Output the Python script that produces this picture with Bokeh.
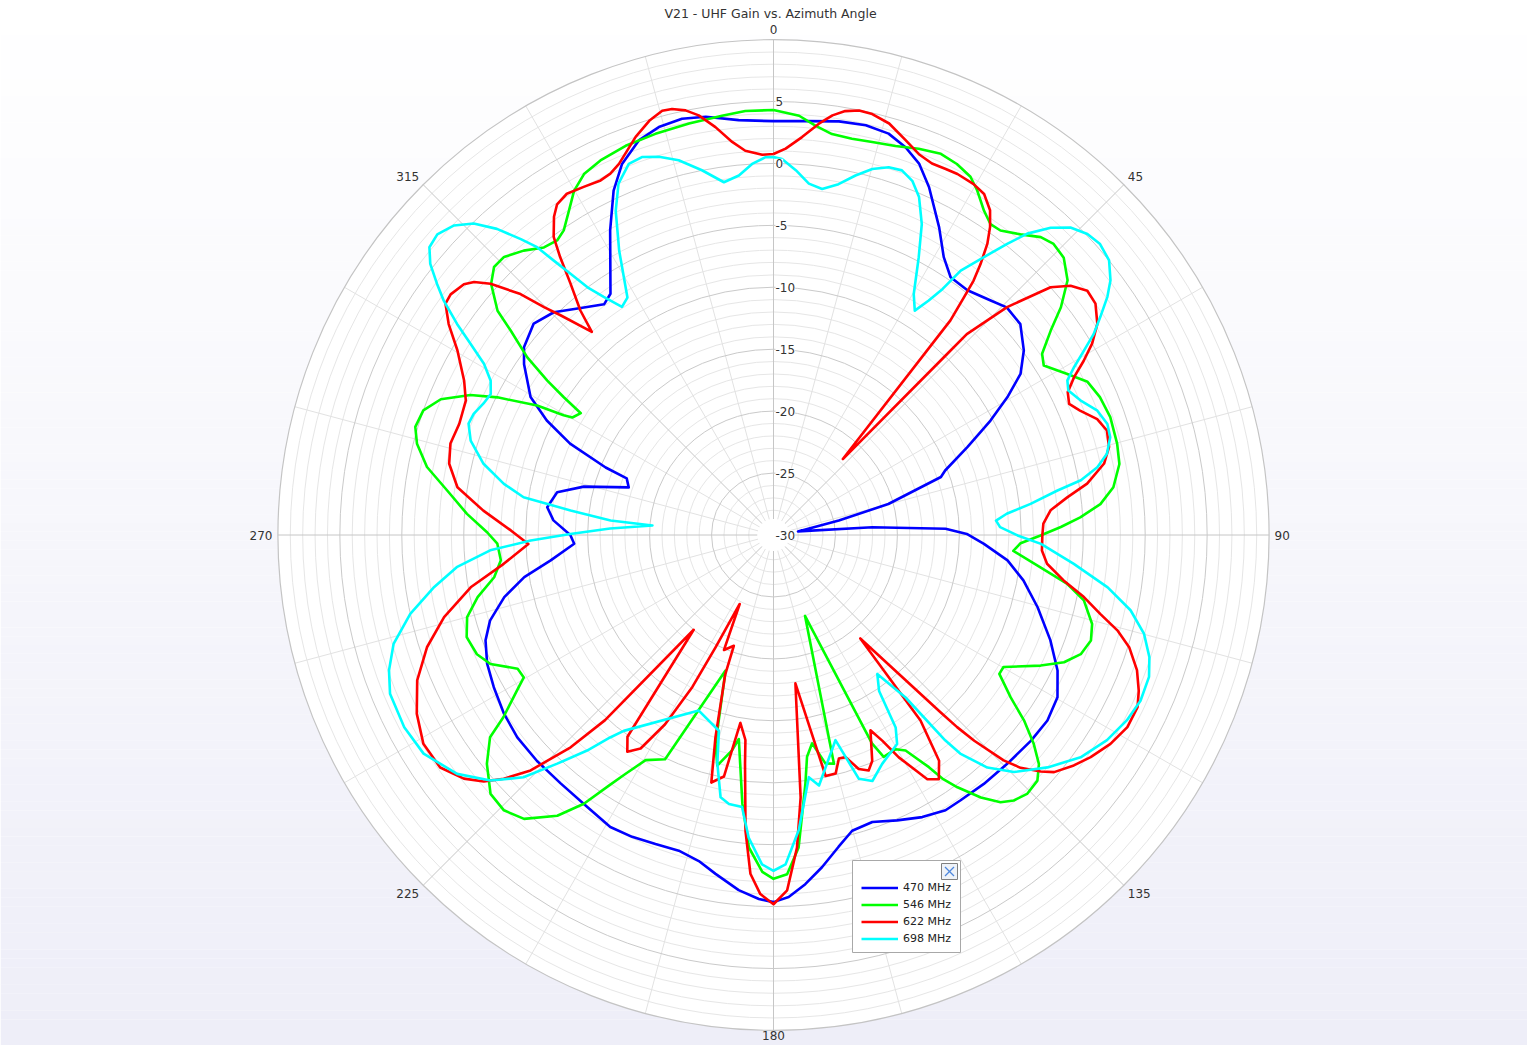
import numpy as np
from bokeh.plotting import figure
from bokeh.models import Range1d, Label, Legend, LegendItem
from bokeh.embed import file_html
from bokeh.resources import INLINE

TITLE = "V21 - UHF Gain vs. Azimuth Angle"
R_MIN, R_MAX = -30, 10
RING_LABELS = [5, 0, -5, -10, -15, -20, -25, -30]
ANGLE_LABELS = [0, 45, 90, 135, 180, 225, 270, 315]
SERIES = ["470 MHz", "546 MHz", "622 MHz", "698 MHz"]
COLORS = ["#0000ff", "#00ff00", "#ff0000", "#00ffff"]

# ---- 470 MHz ----
ANG_470 = [0, 4.4, 9.0, 12.7, 16.0, 18.8, 21.4, 24.1, 28.3, 31.5, 34.5, 38.4, 42.8, 45.7, 49.5,
           53.6, 56.9, 59.5, 62.2, 65.6, 69.4, 70.9, 74.9, 77.5, 81.7, 85.5, 87.9, 89.7, 92.4,
           96.2, 100.3, 105.3, 110.8, 115.5, 119.75, 124.1, 128.6, 134.4, 139.8, 144.8, 148.0,
           152.2, 156.6, 161.0, 165.1, 168.2, 171.7, 174.8, 177.6, 180, 182.3, 185.6, 189.7,
           192.9, 196.7, 200.9, 205.1, 209.2, 214.4, 220.6, 226.3, 231.7, 236.45, 241.45, 245.8,
           249.9, 253.2, 257.0, 260.4, 263.5, 267.5, 270, 273.8, 277.0, 281.2, 284.3, 288.2,
           291.1, 291.9, 294.2, 296.8, 299.6, 304.4, 306.95, 311.4, 315.4, 320.2, 323.7, 325.95,
           331.8, 335.1, 337.8, 341.15, 344.3, 347.6, 350.8, 355.2]
DB_470 = [3.4, 3.5, 3.8, 3.9, 3.7, 3.06, 2.2, 0.75, -1.8, -3.7, -4.76, -4.8, -4.2, -3.7, -3.8,
          -4.9, -6.2, -8.1, -10.2, -12.8, -15.2, -15.7, -20.4, -24.6, -28.0, -22.0, -16.1, -14.4, -13.0,
          -11.0, -9.5, -7.9, -6.1, -4.6, -3.6, -3.3, -3.4, -3.6, -3.7, -3.8, -3.8,
          -4.26, -4.9, -5.5, -5.3, -4.3, -2.9, -1.7, -0.75, -0.37, -0.6, -1.2, -2.25,
          -3.0, -3.4, -3.3, -3.1, -3.0, -3.4, -3.6, -3.6, -3.65, -3.9, -4.3, -4.66,
          -5.25, -6.1, -7.7, -9.6, -11.9, -13.9, -13.6, -12.2, -11.6, -12.2, -14.2, -17.7,
          -17.3, -15.4, -12.0, -9.5, -7.45, -5.6, -4.8, -4.2, -4.75, -6.1, -6.9, -6.5,
          -2.1, 0.65, 2.35, 3.65, 4.2, 4.4, 4.2, 3.6]

# ---- 546 MHz ----
ANG_546 = [0, 3.5, 5.9, 8.3, 11.2, 14.1, 17.4, 20.6, 23.7, 26.3, 28.8, 30.6, 33.0, 34.9, 36.7,
           39.4, 41.9, 43.9, 46.3, 49.1, 51.6, 53.6, 56.0, 57.9, 61.2, 64.0, 67.1, 70.7, 75.1,
           78.4, 82.0, 84.6, 86.7, 88.4, 90.1, 91.9, 93.8, 96.9, 99.4, 101.9, 105.6, 108.4,
           111.2, 113.65, 116.05, 119.85, 121.6, 124.4, 126.5, 128.7, 130.8, 132.95, 135.6,
           137.85, 139.65, 141.7, 143.9, 145.2, 146.2, 148.5, 150.3, 153.6, 154.7, 158.7,
           165.2, 167.2, 169.5, 171.4, 172.7, 175.4, 177.7, 180, 181.9, 184.5, 186.6, 189.65,
           190.9, 193.7, 195.5, 199.5, 205.8, 209.6, 211.8, 213.3, 215.2, 217.6, 221.3, 224.4,
           227.55, 231.4, 234.5, 236.0, 238.8, 240.3, 242.4, 245.5, 248.1, 251.6, 255.0, 258.15,
           261.4, 264.7, 268.2, 270.5, 273.95, 277.8, 281.1, 284.35, 286.8, 289.6, 292.2, 294.8,
           296.5, 298.7, 299.7, 300.3, 302.3, 303.3, 304.3, 305.8, 307.9, 309.1, 311.65, 313.8,
           315.9, 318.7, 321.4, 323.7, 325.45, 327.8, 329.9, 332.3, 335.2, 339.2, 343.6, 348.4,
           353.0, 356.2]
DB_546 = [4.3, 3.9, 3.2, 2.7, 2.6, 2.7, 2.9, 3.3, 3.6, 3.4, 3.0, 2.3, 1.2, 0.6, 0.65,
          1.4, 2.3, 2.6, 2.4, 1.4, -0.4, -2.2, -3.85, -4.25, -3.0, -1.8, -1.4, -1.2, -1.3,
          -1.5, -2.3, -3.5, -5.2, -6.8, -8.45, -10.05, -10.6, -8.3, -6.0, -4.4, -3.3, -3.0,
          -3.4, -4.4, -6.0, -8.6, -8.6, -6.8, -4.85, -3.1, -1.7, -0.9, -0.75,
          -1.1, -1.7, -3.0, -4.8, -6.0, -7.45, -9.6, -10.1, -10.0, -11.4, -23.0,
          -10.9, -11.1, -12.9, -11.9, -9.75, -4.7, -2.6, -2.25, -2.8, -4.7, -8.15, -13.3,
          -12.3, -10.85, -12.5, -18.4, -9.9, -9.1, -7.3, -5.8, -3.45, -1.4, 0.5, 1.1,
          0.95, -0.4, -1.9, -3.7, -5.8, -6.8, -6.7, -4.9, -4.2, -3.9, -4.4, -5.6,
          -7.2, -7.9, -7.7, -6.9, -5.2, -3.4, -1.5, -0.3, 0.2, 0.0, -1.0, -3.05,
          -5.1, -8.25, -10.5, -11.2, -11.6, -9.75, -7.9, -5.5, -3.1, -1.3, 0.5, 1.25,
          1.25, 0.55, -0.3, -0.5, -0.15, 0.97, 2.1, 2.9, 3.3, 3.6, 3.75, 3.9,
          4.1, 4.3]

# ---- 622 MHz ----
ANG_622 = [0, 1.8, 4.1, 6.3, 8.0, 9.6, 11.4, 13.2, 15.7, 18.5, 20.9, 23.1, 25.2, 27.0, 29.7,
           31.7, 33.7, 35.1, 36.3, 37.4, 38.2, 38.7, 39.5, 42.4, 43.8, 43.9, 45.7, 48.2, 50.0,
           52.1, 54.3, 56.9, 59.0, 60.7, 62.3, 64.1, 66.1, 67.9, 70.3, 72.6, 75.3, 77.8, 80.7,
           82.7, 84.9, 87.6, 90, 93.3, 96.0, 98.9, 101.3, 103.6, 105.5, 107.5, 110.4, 113.1,
           115.3, 118.5, 121.8, 125.0, 127.5, 130.2, 131.5, 133.3, 134.4, 135.7, 136.3, 136.7,
           140.0, 141.6, 143.75, 145.9, 147.8, 150.6, 152.1, 153.6, 156.4, 158.0, 160.0, 162.0,
           163.7, 165.4, 167.8, 171.6, 174.1, 175.7, 177.8, 180, 182.1, 183.9, 185.4, 187.1,
           187.8, 190.0, 191.6, 194.1, 196.0, 199.1, 199.7, 203.3, 206.1, 207.3, 208.1, 209.8,
           211.9, 214.0, 215.9, 220.1, 222.3, 223.7, 225.9, 227.9, 229.6, 231.8, 235.1, 239.2,
           243.4, 247.8, 252.05, 256.0, 260.2, 263.9, 267.9, 271.0, 274.8, 278.6, 282.4, 285.8,
           289.5, 293.6, 296.5, 300.3, 303.0, 305.2, 306.7, 309.0, 310.2, 311.6, 313.6, 314.8,
           315.9, 318.2, 319.3, 321.1, 322.5, 323.6, 325.4, 326.8, 328.8, 331.4, 334.0, 335.7,
           337.4, 340.9, 343.3, 345.3, 346.6, 348.3, 349.9, 351.9, 354.0, 355.8, 358.3]
DB_622 = [0.75, 1.2, 2.2, 3.4, 4.2, 4.7, 4.95, 4.9, 4.5, 3.6, 2.9, 2.6, 2.65, 2.7, 2.6,
          2.35, 1.5, 0.4, -0.85, -2.5, -3.9, -5.4, -7.55, -21.7, -9.9, -7.5, -3.66, 0.0, 1.3,
          2.1, 2.0, 1.2, 0.0, -1.3, -2.6, -3.6, -3.9, -3.3, -2.25, -1.8, -2.0, -2.7, -4.35,
          -6.1, -7.55, -8.2, -8.3, -8.3, -7.8, -6.3, -4.45, -2.85, -1.2, 0.1, 1.3, 2.05,
          2.5, 2.5, 2.0, 1.25, 0.55, -0.35, -1.2, -2.6, -4.0, -6.8, -8.55, -10.35,
          -19.1, -10.9, -7.4, -6.2, -6.7, -9.4, -11.2, -12.4, -10.1, -9.5, -9.9, -11.15,
          -11.2, -10.1, -10.1, -17.9, -8.7, -4.7, -1.3, -0.2, -1.0, -2.6, -6.0, -11.4,
          -13.3, -14.6, -10.1, -9.4, -13.0, -18.1, -20.5, -19.9, -23.8, -19.8, -16.1, -12.4,
          -9.7, -8.9, -9.9, -20.0, -9.8, -6.3, -2.7, -0.66, 0.7, 1.8, 2.8, 2.9,
          2.2, 1.06, -0.6, -2.6, -5.2, -8.1, -10.2, -8.8, -6.5, -4.2, -3.2, -2.9,
          -3.1, -2.9, -2.1, -0.45, 1.26, 2.4, 2.5, 2.15, 1.64, 0.54, -1.8, -3.9,
          -5.3, -8.0, -6.1, -3.9, -1.7, -0.1, 1.2, 1.9, 2.2, 2.0, 1.84, 2.0,
          2.45, 4.0, 4.9, 5.4, 5.35, 5.0, 4.4, 3.25, 1.9, 1.1, 0.7]

# ---- 698 MHz ----
ANG_698 = [0, 1.3, 3.5, 5.75, 8.0, 10.5, 12.85, 15.1, 17.4, 19.4, 21.4, 23.3, 25.5, 27.6, 30.2,
           32.2, 33.5, 34.5, 35.3, 37.1, 38.75, 40.1, 42.05, 44.0, 46.2, 48.3, 50.7, 52.9, 54.5,
           56.3, 57.9, 59.3, 60.8, 62.25, 63.9, 66.3, 69.0, 71.6, 73.8, 76.3, 78.2, 79.9, 81.1,
           83.1, 84.8, 86.3, 88.0, 90.1, 91.9, 95.5, 98.9, 101.9, 104.9, 108.0, 110.7, 114.3,
           117.7, 121.6, 125.9, 130.3, 134.6, 137.4, 139.5, 140.1, 140.9, 143.25, 145.9, 147.6,
           149.4, 154.6, 158.1, 160.7, 163.2, 169.7, 171.7, 175.1, 177.9, 180, 182.0, 184.7,
           186.6, 189.4, 191.4, 193.8, 195.6, 203.05, 217.4, 218.9, 220.85, 223.4, 225.9,
           229.05, 232.95, 238.0, 242.5, 247.5, 250.6, 254.0, 257.75, 261.3, 264.2, 266.9,
           268.7, 270.3, 272.3, 274.5, 275.1, 276.9, 278.6, 280.75, 283.8, 287.3, 290.05, 292.0,
           294.4, 296.5, 298.6, 300.6, 302.25, 303.7, 305.4, 306.75, 308.3, 309.9, 311.8, 314.1,
           316.1, 317.9, 319.5, 320.6, 321.3, 322.15, 323.1, 324.5, 326.4, 328.4, 331.5, 334.05,
           336.2, 338.7, 340.8, 343.15, 345.8, 348.9, 352.0, 354.5, 356.7, 358.8]
DB_698 = [0.5, 0.36, -0.5, -1.5, -1.8, -1.2, -0.24, 0.6, 1.1, 1.2, 0.7, -0.3, -2.2, -4.7, -7.5,
          -8.6, -7.3, -5.9, -3.85, -1.9, 0.13, 1.8, 3.4, 4.5, 5.1, 5.3, 5.0, 4.1, 3.1,
          1.7, 0.5, -0.86, -2.2, -3.2, -3.5, -2.95, -2.0, -1.6, -1.7, -2.3, -3.3, -4.8, -6.8,
          -9.1, -11.1, -12.0, -11.7, -10.3, -8.4, -5.65, -2.7, -0.55, 0.94, 1.9, 2.4, 2.5,
          2.2, 1.6, 0.6, -1.0, -2.75, -4.5, -6.8, -8.4, -13.1, -16.0, -14.8, -11.6,
          -10.4, -9.55, -8.6, -9.15, -12.7, -9.45, -10.25, -6.1, -3.4, -2.9, -3.4, -5.5,
          -7.9, -8.0, -8.4, -11.0, -13.6, -14.6, -10.1, -9.0, -7.0, -4.6, -1.9,
          0.24, 2.0, 3.3, 3.6, 3.5, 2.9, 1.9, 0.0, -2.3, -4.3, -7.1,
          -10.4, -13.6, -16.8, -20.2, -16.8, -13.5, -9.6, -7.85, -5.9, -4.4, -3.8, -3.9,
          -4.3, -4.5, -4.0, -2.85, -1.1, 0.7, 2.65, 3.9, 5.3, 6.2, 6.4, 5.9,
          4.9, 3.3, 1.4, 0.06, -1.6, -3.3, -5.0, -6.4, -7.9, -7.5, -3.9, -0.9,
          1.0, 2.15, 2.3, 1.9, 1.2, 0.0, -1.25, -0.85, 0.0, 0.5]

ANGLES = [ANG_470, ANG_546, ANG_622, ANG_698]
GAINS = [DB_470, DB_546, DB_622, DB_698]

# ---------------- layout ----------------
W, H = 1527, 1045
CX, CY = 773.0, 534.5        # pole position in frame pixels (from top-left)
K = 12.39                    # pixels per dB
FONT = "DejaVu Sans"


def dx(px):   # frame pixel column -> data x
    return (px - CX) / K


def dy(py):   # frame pixel row -> data y
    return (CY - py) / K


p = figure(width=W, height=H, output_backend="svg", toolbar_location=None,
           x_range=Range1d(dx(0), dx(W)), y_range=Range1d(dy(H), dy(0)),
           x_axis_type=None, y_axis_type=None, min_border=0)
p.outline_line_color = None
p.background_fill_color = "white"
p.border_fill_color = "white"

# background gradient
n = 120
tops, bots, cols = [], [], []
for i in range(n):
    t = (i + 0.5) / n
    tops.append(dy(i * H / n))
    bots.append(dy((i + 1) * H / n) - 0.01)
    r = int(round(255 - 17 * t)); g = int(round(255 - 17 * t)); b = int(round(255 - 7 * t))
    cols.append("#%02x%02x%02x" % (r, g, b))
p.quad(left=dx(0), right=dx(W), top=tops, bottom=bots, fill_color=cols, line_color=None)

RO = R_MAX - R_MIN
p.circle(x=[0], y=[0], radius=RO, fill_color="white", line_color=None)

# rings
minor = [d - R_MIN for d in range(R_MIN + 1, R_MAX) if d % 5 != 0]
major = [d - R_MIN for d in range(R_MIN + 5, R_MAX) if d % 5 == 0]
p.circle(x=[0] * len(minor), y=[0] * len(minor), radius=minor, fill_color=None,
         line_color="#e6e6e6", line_width=1)
# spokes
R_IN = 16 / K
sp_min = [a for a in range(0, 360, 15) if a % 45 != 0]
sp_maj = [a for a in range(0, 360, 45)]
for arr, col in ((sp_min, "#e2e2e2"), (sp_maj, "#c6c6c6")):
    t = np.radians(arr)
    p.segment(x0=R_IN * np.sin(t), y0=R_IN * np.cos(t), x1=RO * np.sin(t), y1=RO * np.cos(t),
              line_color=col, line_width=1)
p.circle(x=[0] * len(major), y=[0] * len(major), radius=major, fill_color=None,
         line_color="#cacaca", line_width=1)
p.circle(x=[0], y=[0], radius=RO, fill_color=None, line_color="#c4c4c4", line_width=1.2)
p.circle(x=[0], y=[0], radius=R_IN, fill_color="white", line_color=None)

# curves
items = []
for ang, gain, col, name in zip(ANGLES, GAINS, COLORS, SERIES):
    a = np.radians(np.array(ang + [ang[0]]))
    rr = np.array(gain + [gain[0]]) - R_MIN
    rnd = p.line(rr * np.sin(a), rr * np.cos(a), line_color=col, line_width=2.6, line_join="round")
    items.append(LegendItem(label=name, renderers=[rnd]))

# legend frame and close button (drawn below the transparent Legend)
BOX_L, BOX_R, BOX_T, BOX_B = 852, 960, 860, 952
p.quad(left=dx(BOX_L), right=dx(BOX_R), top=dy(BOX_T), bottom=dy(BOX_B),
       fill_color="white", line_color="#a8a8a8", line_width=1)
BTN_L, BTN_R, BTN_T, BTN_B = 941, 957, 863, 879
p.quad(left=dx(BTN_L), right=dx(BTN_R), top=dy(BTN_T), bottom=dy(BTN_B),
       fill_color="#eef2f8", line_color="#7f7f7f", line_width=1)
p.segment(x0=[dx(BTN_L + 3.5), dx(BTN_L + 3.5)], y0=[dy(BTN_T + 3.5), dy(BTN_B - 3.5)],
          x1=[dx(BTN_R - 3.5), dx(BTN_R - 3.5)], y1=[dy(BTN_B - 3.5), dy(BTN_T + 3.5)],
          line_color="#4d86dc", line_width=1.2)

# radial labels
for g in RING_LABELS:
    p.add_layout(Label(x=2 / K, y=g - R_MIN, text=str(g), text_align="left", text_baseline="middle",
                       text_font=FONT, text_font_size="12px", text_color="#333333",
                       background_fill_color="white"))

# angle labels
ANCH = {0: ("center", "bottom", 501), 45: ("left", "bottom", 501), 90: ("left", "middle", 501),
        135: ("left", "top", 501), 180: ("center", "top", 496), 225: ("right", "top", 501),
        270: ("right", "middle", 501), 315: ("right", "bottom", 501)}
for a in ANGLE_LABELS:
    al, bl, rpx = ANCH[a]
    t = np.radians(a)
    p.add_layout(Label(x=rpx / K * np.sin(t), y=rpx / K * np.cos(t), text=str(a), text_align=al,
                       text_baseline=bl, text_font=FONT, text_font_size="12px",
                       text_color="#333333"))

# title
p.add_layout(Label(x=dx(770), y=dy(13), text=TITLE, text_align="center", text_baseline="middle",
                   text_font=FONT, text_font_size="12.5px", text_color="#333333"))

# legend entries (transparent, over the frame drawn above)
leg = Legend(items=items, location=(861, H - 946.5), orientation="vertical",
             label_text_font=FONT, label_text_font_size="11px", label_text_color="#222222",
             glyph_width=37, glyph_height=17, label_height=17, label_width=50, label_standoff=5,
             spacing=0, padding=0, margin=0,
             background_fill_alpha=0.0, border_line_color=None)
p.add_layout(leg)

open("out.html", "w").write(file_html(p, INLINE))
